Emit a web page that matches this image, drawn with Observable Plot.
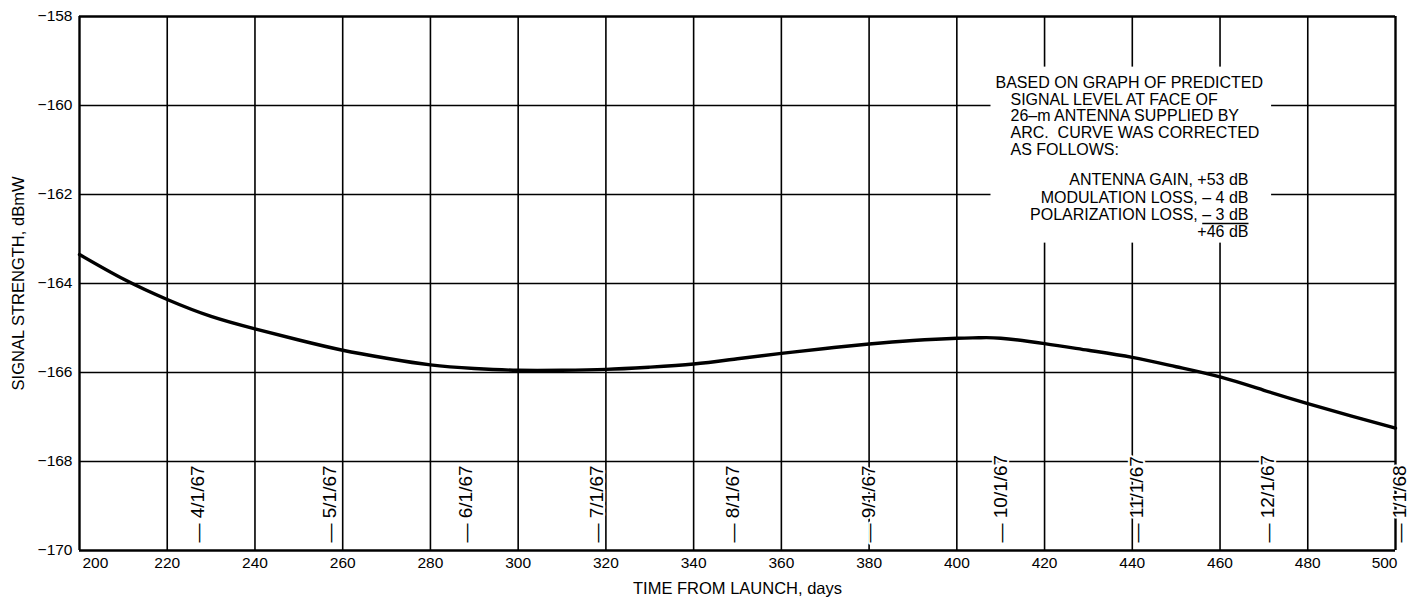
<!DOCTYPE html>
<html><head><meta charset="utf-8">
<script src="https://cdn.jsdelivr.net/npm/d3@7"></script>
<script src="https://cdn.jsdelivr.net/npm/@observablehq/plot@0.6"></script>
<style>html,body{margin:0;padding:0;background:#fff;} svg{display:block;overflow:visible;}</style>
</head><body><div id="chart"></div>
<script>
// Time from launch (days) and predicted signal strength (dBmW)
const days   = [200, 210, 220, 230, 240, 250, 260, 270, 280, 290, 300, 310, 320, 330, 340, 350, 360, 370, 380, 390, 400, 405, 410, 420, 430, 440, 450, 460, 470, 480, 490, 500];
const signal = [-163.35, -163.9, -164.36, -164.74, -165.02, -165.27, -165.5, -165.68, -165.83, -165.91, -165.95, -165.95, -165.93, -165.88, -165.81, -165.69, -165.57, -165.46, -165.36, -165.28, -165.23, -165.22, -165.23, -165.35, -165.5, -165.66, -165.87, -166.1, -166.4, -166.7, -166.98, -167.25];

const xTicks = [200, 220, 240, 260, 280, 300, 320, 340, 360, 380, 400, 420, 440, 460, 480, 500];
const yTicks = [-170, -168, -166, -164, -162, -160, -158];

const dateLabels = ["4/1/67", "5/1/67", "6/1/67", "7/1/67", "8/1/67", "9/1/67", "10/1/67", "11/1/67", "12/1/67", "1/1/68"];
const dateDays   = [227, 257, 288, 318, 349, 380, 410, 441, 471, 502];

const noteHead  = "BASED ON GRAPH OF PREDICTED";
const noteBody  = ["SIGNAL LEVEL AT FACE OF", "26–m ANTENNA SUPPLIED BY", "ARC.  CURVE WAS CORRECTED", "AS FOLLOWS:"];
const noteTerms = ["ANTENNA GAIN, +53 dB", "MODULATION LOSS, – 4 dB", "POLARIZATION LOSS, – 3 dB"];
const noteUnderlined = "– 3 dB";
const noteTotal = "+46 dB";

const xLabel = "TIME FROM LAUNCH, days";
const yLabel = "SIGNAL STRENGTH, dBmW";

const curve = days.map((d, i) => ({day: d, value: signal[i]}));
const dates = dateDays.map((d, i) => ({day: d, label: dateLabels[i]}));
const innerX = xTicks.slice(1, -1);
const innerY = yTicks.slice(1, -1);
const edgeX = [xTicks[0], xTicks[xTicks.length - 1]];
const edgeY = [yTicks[0], yTicks[yTicks.length - 1]];

const FONT = "'Liberation Sans', Arial, sans-serif";
const dateStyle = {x: "day", text: d => "— " + d.label, frameAnchor: "bottom", dy: -8, rotate: -90,
  textAnchor: "start", lineAnchor: "middle", fontSize: 19, fill: "black", stroke: "white", strokeWidth: 4, paintOrder: "stroke"};

const svg = Plot.plot({
  width: 1410,
  height: 599,
  marginLeft: 79,
  marginRight: 15,
  marginTop: 16,
  marginBottom: 49,
  style: {fontFamily: FONT, fontSize: "15px", background: "white", color: "black"},
  x: {domain: edgeX, axis: null},
  y: {domain: edgeY, axis: null},
  marks: [
    Plot.ruleX(innerX, {stroke: "black", strokeWidth: 1.6}),
    Plot.ruleY(innerY, {stroke: "black", strokeWidth: 1.6}),
    Plot.ruleX(edgeX, {stroke: "black", strokeWidth: 2.4}),
    Plot.ruleY(edgeY, {stroke: "black", strokeWidth: 2.4}),
    Plot.line(curve, {x: "day", y: "value", curve: "natural", stroke: "black", strokeWidth: 3.4}),
    Plot.axisY(yTicks, {tickSize: 0, tickPadding: 7, fontSize: 15.5, label: null}),
    Plot.text(innerX, {x: d => d, text: d => String(d), frameAnchor: "bottom", lineAnchor: "top", dy: 6, fontSize: 15.5}),
    Plot.text([xTicks[0]], {x: d => d, text: d => String(d), frameAnchor: "bottom", lineAnchor: "top", dy: 6, dx: 3, textAnchor: "start", fontSize: 15.5}),
    Plot.text([xTicks[xTicks.length - 1]], {x: d => d, text: d => String(d), frameAnchor: "bottom", lineAnchor: "top", dy: 6, dx: 2, textAnchor: "end", fontSize: 15.5}),
    Plot.text(dates.slice(0, -1), dateStyle),
    Plot.text(dates.slice(-1), {...dateStyle, dx: -4}),
    Plot.text([noteHead], {frameAnchor: "top-right", dx: -400, dy: 66, textAnchor: "start", lineAnchor: "middle", fontSize: 16}),
    Plot.text([noteBody.join("\n")], {frameAnchor: "top-right", dx: -385, dy: 108, textAnchor: "start", lineAnchor: "middle", lineHeight: 1.05, fontSize: 16}),
    Plot.text([noteTerms.join("\n")], {frameAnchor: "top-right", dx: -147, dy: 180.5, textAnchor: "end", lineAnchor: "middle", lineHeight: 1.09, fontSize: 16}),
    Plot.text([noteTotal], {frameAnchor: "top-right", dx: -147, dy: 215, textAnchor: "end", lineAnchor: "middle", fontSize: 16}),
    Plot.text([yLabel], {frameAnchor: "left", dx: -61, rotate: -90, textAnchor: "middle", lineAnchor: "middle", fontSize: 16.5}),
    Plot.text([xLabel], {frameAnchor: "bottom", dy: 38, textAnchor: "middle", lineAnchor: "middle", fontSize: 16.5})
  ]
});

document.getElementById("chart").appendChild(svg);

// Post-processing: clear gridlines behind the note and underline the last correction term
const sel = d3.select(svg);
const svgRect = svg.getBoundingClientRect();
const notePieces = [noteHead, ...noteBody, ...noteTerms, noteTotal];
const noteTexts = Array.from(svg.querySelectorAll("text")).filter(t =>
  notePieces.some(p => t.textContent.includes(p.replace(/  /g, " ")) || t.textContent.includes(p)));
let L = Infinity, T = Infinity, R = -Infinity, B = -Infinity;
noteTexts.forEach(t => {
  const r = t.getBoundingClientRect();
  L = Math.min(L, r.left); T = Math.min(T, r.top); R = Math.max(R, r.right); B = Math.max(B, r.bottom);
});
if (noteTexts.length) {
  const g = noteTexts[0].parentNode;
  const rect = document.createElementNS("http://www.w3.org/2000/svg", "rect");
  rect.setAttribute("x", L - svgRect.left - 5);
  rect.setAttribute("y", T - svgRect.top - 7);
  rect.setAttribute("width", R - L + 13);
  rect.setAttribute("height", B - T + 10);
  rect.setAttribute("fill", "white");
  g.parentNode.insertBefore(rect, g);
}
sel.selectAll("tspan, text").each(function () {
  if (this.childElementCount === 0 && this.textContent === noteTerms[2]) {
    const prefix = noteTerms[2].slice(0, noteTerms[2].length - noteUnderlined.length);
    this.textContent = prefix;
    const u = d3.select(this).append("tspan").text(noteUnderlined).node();
    const r = u.getBoundingClientRect();
    sel.append("line")
      .attr("x1", r.left - svgRect.left).attr("x2", r.right - svgRect.left)
      .attr("y1", r.bottom - svgRect.top + 0.5).attr("y2", r.bottom - svgRect.top + 0.5)
      .attr("stroke", "black").attr("stroke-width", 1.4);
  }
});
</script>
</body></html>
